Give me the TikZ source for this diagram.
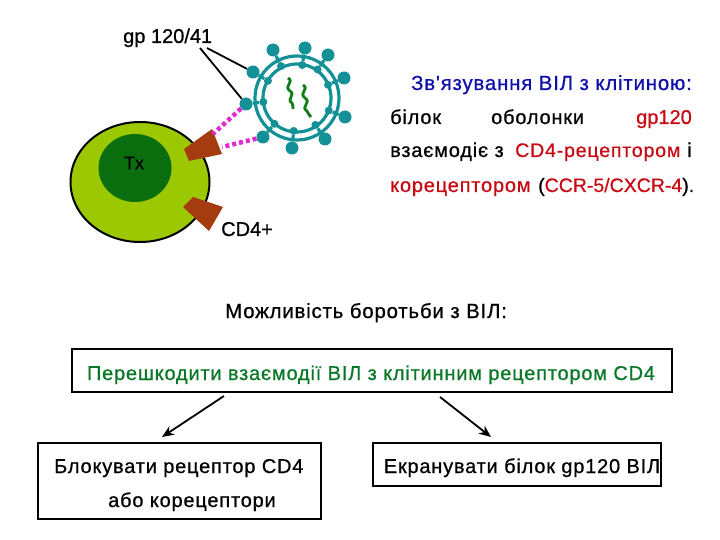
\documentclass[tikz,border=0pt]{standalone}
\usepackage{fontspec}
\setmainfont{Liberation Sans}[FakeBold=0.7]
\newfontfamily\cyrspaced{Liberation Sans}[FakeBold=0.7,LetterSpace=4]
\usetikzlibrary{arrows.meta,shapes.geometric}
\definecolor{vir}{RGB}{20,145,150}
\definecolor{rna}{RGB}{15,125,25}
\definecolor{cellg}{RGB}{155,200,0}
\definecolor{nuc}{RGB}{10,110,15}
\definecolor{rec}{RGB}{165,60,15}
\definecolor{pinkd}{RGB}{225,40,215}
\definecolor{boxgreen}{RGB}{10,120,40}
\definecolor{redt}{RGB}{200,10,20}
\definecolor{bluet}{RGB}{15,15,170}
\tikzset{
 lab/.style={inner sep=0pt,anchor=base west,font=\fontsize{20}{24}\selectfont},
 cyr/.style={inner sep=0pt,anchor=base west,font=\fontsize{20}{24}\cyrspaced},
 cyrw/.style={inner sep=0pt,anchor=base west,font=\fontsize{20.4}{24}\cyrspaced},
 box/.style={draw=black,line width=2pt,fill=white},
 arr/.style={-{Stealth[length=12pt,width=10pt]},line width=1.8pt},
 pt/.style={circle,fill=vir,inner sep=0pt,minimum size=13pt},
 bump/.style={circle,fill=vir,inner sep=0pt,minimum size=8pt},
 dot/.style={pinkd,line width=4.5pt,dash pattern=on 4pt off 3pt},
 lead/.style={black,line width=1.8pt}
}
\begin{document}
\begin{tikzpicture}[x=1pt,y=-1pt]
\useasboundingbox (0,0) rectangle (720,540);
% cell
\node[draw=black,line width=2pt,fill=cellg,ellipse,minimum width=139pt,minimum height=120pt,inner sep=0pt] (cell) at (140,182) {};
\node[fill=nuc,ellipse,minimum width=73pt,minimum height=68pt,inner sep=0pt] (nucleus) at (135,168) {};
\node[inner sep=0pt,font=\fontsize{18}{20}\selectfont,text=black] (tx) at (134,163) {Tx};
\fill[rec] (184,149) -- (212,129) -- (222,154) -- (189,161) -- cycle;
\fill[rec] (183,207) -- (193,197) -- (223,207) -- (209,231) -- cycle;
% virus
\coordinate (vc) at (297,98);
\draw[vir,line width=3.2pt] (vc) circle (42);
\draw[vir,line width=3.2pt] (vc) circle (34);
\foreach \bx/\by/\n in {273/50/a,305/48/b,328/55/c,344/78/d,345/117/e,325/139/f,292/148/g,263/137/h,246/104/i,253/72/j}{
  \node[pt] (s\n) at (\bx,\by) {};
  \path (vc) -- (s\n) node[pos=0.76,bump] (k\n) {};
  \draw[vir,line width=3.2pt] (s\n) -- (k\n);
}
\draw[rna,line width=2.8pt] (288,78) .. controls (295,82) and (283,86) .. (290,91) .. controls (296,95) and (286,99) .. (292,103) .. controls (294,105) and (292,107) .. (293,109);
\draw[rna,line width=2.8pt] (303,85) .. controls (310,89) and (298,93) .. (305,98) .. controls (312,102) and (300,107) .. (307,111) .. controls (309,113) and (308,115) .. (311,117);
% pink links
\coordinate (r1) at (213,134);
\coordinate (r2) at (222,147);
\draw[dot] (si) -- (r1);
\draw[dot] (sh) -- (r2);
% labels
\node[lab] (gp) at (123,43) {gp 120/41};
\coordinate (l1) at (200,48);
\coordinate (l2) at (207,48);
\draw[lead] (l1) -- (si);
\draw[lead] (l2) -- (sj);
\node[lab] (cd) at (221,236) {CD4+};
\node[cyrw,text=bluet] (t1) at (411,90) {Зв'язування ВІЛ з клітиною:};
\node[cyr] (t2a) at (390,124) {білок};
\node[cyr] (t2b) at (491,124) {оболонки};
\node[lab,text=redt] (t2c) at (636,124) {gp120};
\node[cyr] (t3a) at (390,157) {взаємодіє з};
\node[cyr,text=redt,font=\fontsize{19.6}{24}\cyrspaced] (t3b) at (515,157) {CD4-рецептором};
\node[lab] (t3c) at (687,157) {і};
\node[cyr,text=redt] (t4a) at (390,192) {корецептором};
\node[lab,font=\fontsize{19.5}{24}\selectfont] (t4b) at (538,192) {(\textcolor{redt}{CCR-5/CXCR-4}).};
\node[cyrw] (t5) at (225,318) {Можливість боротьби з ВІЛ:};
% boxes
\node[box,minimum width=600pt,minimum height=43pt,inner sep=0pt] (top) at (371.5,370) {};
\node[cyr,text=boxgreen,anchor=base] (ttop) at (371,380) {Перешкодити взаємодії ВІЛ з клітинним рецептором CD4};
\node[box,minimum width=283pt,minimum height=76pt,inner sep=0pt] (left) at (179.5,481) {};
\node[cyr] (tl1) at (54,473) {Блокувати рецептор CD4};
\node[cyr] (tl2) at (108,507) {або корецептори};
\node[box,minimum width=288pt,minimum height=43pt,inner sep=0pt] (right) at (517,464.5) {};
\node[cyr,anchor=base] (tr) at (522,473) {Екранувати білок gp120 ВІЛ};
\coordinate (a1) at (224,396);
\coordinate (a2) at (440,397);
\coordinate (a1e) at (162,437);
\coordinate (a2e) at (491,437);
\draw[arr] (a1) -- (a1e);
\draw[arr] (a2) -- (a2e);
\end{tikzpicture}
\end{document}
